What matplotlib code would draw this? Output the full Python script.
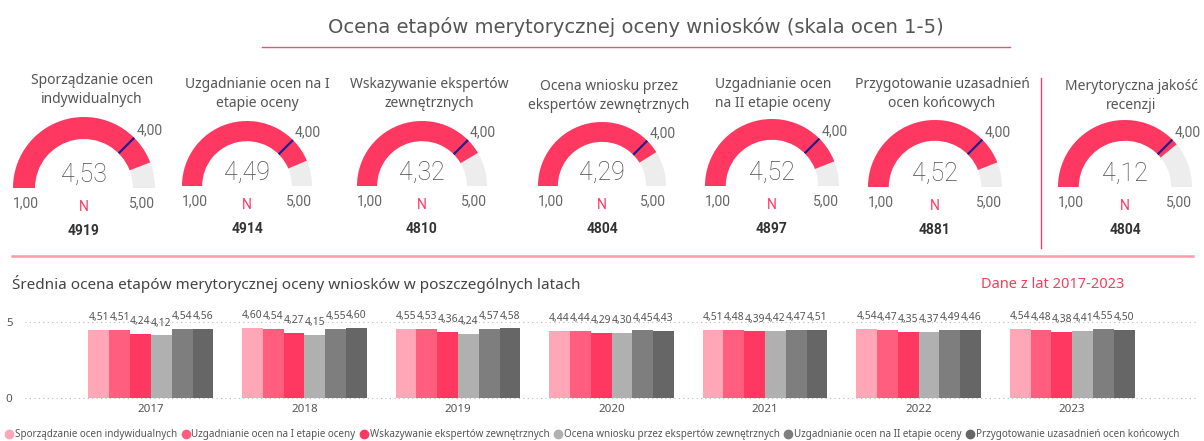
import matplotlib
matplotlib.use("Agg")
import matplotlib.pyplot as plt
from matplotlib.patches import Wedge
from matplotlib.lines import Line2D
import numpy as np

# ---------------- data ----------------
gauge_titles = [
    "Sporządzanie ocen\nindywidualnych",
    "Uzgadnianie ocen na I\netapie oceny",
    "Wskazywanie ekspertów\nzewnętrznych",
    "Ocena wniosku przez\nekspertów zewnętrznych",
    "Uzgadnianie ocen\nna II etapie oceny",
    "Przygotowanie uzasadnień\nocen końcowych",
    "Merytoryczna jakość\nrecenzji",
]
gauge_values = [4.53, 4.49, 4.32, 4.29, 4.52, 4.52, 4.12]
gauge_targets = [4.00, 4.00, 4.00, 4.00, 4.00, 4.00, 4.00]
gauge_min = 1.00
gauge_max = 5.00
gauge_n = [4919, 4914, 4810, 4804, 4897, 4881, 4804]

years = ["2017", "2018", "2019", "2020", "2021", "2022", "2023"]
series_names = [
    "Sporządzanie ocen indywidualnych",
    "Uzgadnianie ocen na I etapie oceny",
    "Wskazywanie ekspertów zewnętrznych",
    "Ocena wniosku przez ekspertów zewnętrznych",
    "Uzgadnianie ocen na II etapie oceny",
    "Przygotowanie uzasadnień ocen końcowych",
]
s_sporzadzanie = [4.51, 4.60, 4.55, 4.44, 4.51, 4.54, 4.54]
s_uzgadnianie1 = [4.51, 4.54, 4.53, 4.44, 4.48, 4.47, 4.48]
s_wskazywanie = [4.24, 4.27, 4.36, 4.29, 4.39, 4.35, 4.38]
s_ocena_wniosku = [4.12, 4.15, 4.24, 4.30, 4.42, 4.37, 4.41]
s_uzgadnianie2 = [4.54, 4.55, 4.57, 4.45, 4.47, 4.49, 4.55]
s_przygotowanie = [4.56, 4.60, 4.58, 4.43, 4.51, 4.46, 4.50]
series_values = [s_sporzadzanie, s_uzgadnianie1, s_wskazywanie,
                 s_ocena_wniosku, s_uzgadnianie2, s_przygotowanie]

# ---------------- style / layout ----------------
W, H = 1204, 441
RED = "#FF3862"
GRAYBG = "#EDEDED"
TARGET = "#1F1F8C"
series_colors = ["#FFA7B6", "#FF5E7E", "#FF3862", "#B0B0B0", "#7E7E7E", "#666666"]

# gauge layout (pixel positions, y measured from top)
g_cx = [84, 247, 422, 602, 772, 935, 1125]
g_cy = [188, 186, 186, 186, 186, 187, 187]
g_r = [71, 65, 65, 64, 67, 67, 67]
g_title_y = [80, 84, 84, 86, 84, 84, 86]
g_title_x = [92, 257, 429, 609, 773, 942, 1131]
THICK = 0.31

plt.rcParams["font.family"] = ["Noto Sans", "DejaVu Sans"]

fig = plt.figure(figsize=(W / 100, H / 100), dpi=100)
fig.patch.set_facecolor("white")

ov = fig.add_axes([0, 0, 1, 1])
ov.set_xlim(0, W)
ov.set_ylim(0, H)
ov.axis("off")


def Y(y):
    return H - y


def val_angle(v):
    return 180.0 - 180.0 * (v - gauge_min) / (gauge_max - gauge_min)


def fmt(v):
    return f"{v:.2f}".replace(".", ",")


# title
ov.text(636, Y(27), "Ocena etapów merytorycznej oceny wniosków (skala ocen 1-5)",
        ha="center", va="center", fontsize=14, color="#555555", family="DejaVu Sans")
ov.plot([262, 1010], [Y(47), Y(47)], color="#E8557A", lw=1)

for i in range(len(gauge_values)):
    cx, cy, r = g_cx[i], Y(g_cy[i]), g_r[i]
    w = r * THICK
    ov.add_patch(Wedge((cx, cy), r, 0, 180, width=w, facecolor=GRAYBG, edgecolor="none"))
    a = val_angle(gauge_values[i])
    ov.add_patch(Wedge((cx, cy), r, a, 180, width=w, facecolor=RED, edgecolor="none"))
    t = np.deg2rad(val_angle(gauge_targets[i]))
    ov.plot([cx + (r - w) * np.cos(t), cx + r * np.cos(t)],
            [cy + (r - w) * np.sin(t), cy + r * np.sin(t)], color=TARGET, lw=1.6,
            solid_capstyle="butt")
    ov.text(cx + (r + 3) * np.cos(t), cy + (r + 1) * np.sin(t), fmt(gauge_targets[i]),
            ha="left", va="bottom", fontsize=10, color="#666666", family="Roboto")
    ov.text(cx, cy + 13, fmt(gauge_values[i]), ha="center", va="center",
            fontsize=18, color="#4C4C4C", family="Roboto", fontweight="light")
    ov.text(cx - r, cy - 15, fmt(gauge_min), ha="left", va="center",
            fontsize=10, color="#666666", family="Roboto")
    ov.text(cx + r, cy - 15, fmt(gauge_max), ha="right", va="center",
            fontsize=10, color="#666666", family="Roboto")
    ov.text(cx, cy - 19, "N", ha="center", va="center", fontsize=10, color=RED,
            family="Roboto")
    ov.text(cx, cy - 43, str(gauge_n[i]), ha="center", va="center", fontsize=10,
            color="#333333", family="Roboto", fontweight="bold")
    ov.text(g_title_x[i], Y(g_title_y[i] + 10), gauge_titles[i], ha="center", va="center",
            fontsize=10, color="#555555", linespacing=1.45)

# divider lines
ov.plot([1041, 1041], [Y(78), Y(248)], color="#F0406A", lw=1)
ov.plot([12, 1193], [Y(256), Y(256)], color="#FF9AAC", lw=1.8)

# section subtitle
ov.text(12, Y(284), "Średnia ocena etapów merytorycznej oceny wniosków w poszczególnych latach",
        ha="left", va="center", fontsize=11, color="#444444")
ov.text(1053, Y(284), "Dane z lat 2017-2023", ha="center", va="center",
        fontsize=10.5, color="#F0405A")

# ---------------- bar chart ----------------
ax_left, ax_right = 25, 1195
ax_bottom_px, ax_top_px = 398, 313
bx = fig.add_axes([ax_left / W, (H - ax_bottom_px) / H, (ax_right - ax_left) / W,
                   (ax_bottom_px - ax_top_px) / H])
x = np.arange(len(years))
n = len(series_values)
bw = 0.1355
for k in range(n):
    xs = x + (k - (n - 1) / 2) * bw
    bars = bx.bar(xs, series_values[k], width=bw, color=series_colors[k], zorder=3)
    for b, v in zip(bars, series_values[k]):
        bx.text(b.get_x() + b.get_width() / 2, v + 0.45, fmt(v), ha="center", va="bottom",
                fontsize=7.4, color="#555555", clip_on=False)

bx.set_xlim(-0.82, len(years) - 0.2)
bx.set_ylim(0, 5.6)
bx.set_yticks([0, 5])
bx.set_xticks(x)
bx.set_xticklabels(years)
bx.tick_params(axis="both", length=0, labelsize=8.3, colors="#555555")
bx.tick_params(axis="y", pad=9)
bx.tick_params(axis="x", pad=4)
for s in bx.spines.values():
    s.set_visible(False)
bx.grid(axis="y", linestyle=(0, (1, 3)), color="#BBBBBB", lw=0.8, zorder=0)
for gl in bx.get_ygridlines():
    gl.set_clip_on(False)
bx.set_facecolor("none")

handles = [Line2D([], [], marker="o", linestyle="none", markersize=6,
                  markerfacecolor=c, markeredgecolor=c) for c in series_colors]
fig.legend(handles, series_names, loc="lower left", bbox_to_anchor=(0.0, -0.012),
           ncol=6, frameon=False, fontsize=7.1, handlelength=0.7, handletextpad=0.2,
           columnspacing=0.55, borderaxespad=0.2, labelcolor="#555555")

fig.savefig("out.png", dpi=100, facecolor="white")
